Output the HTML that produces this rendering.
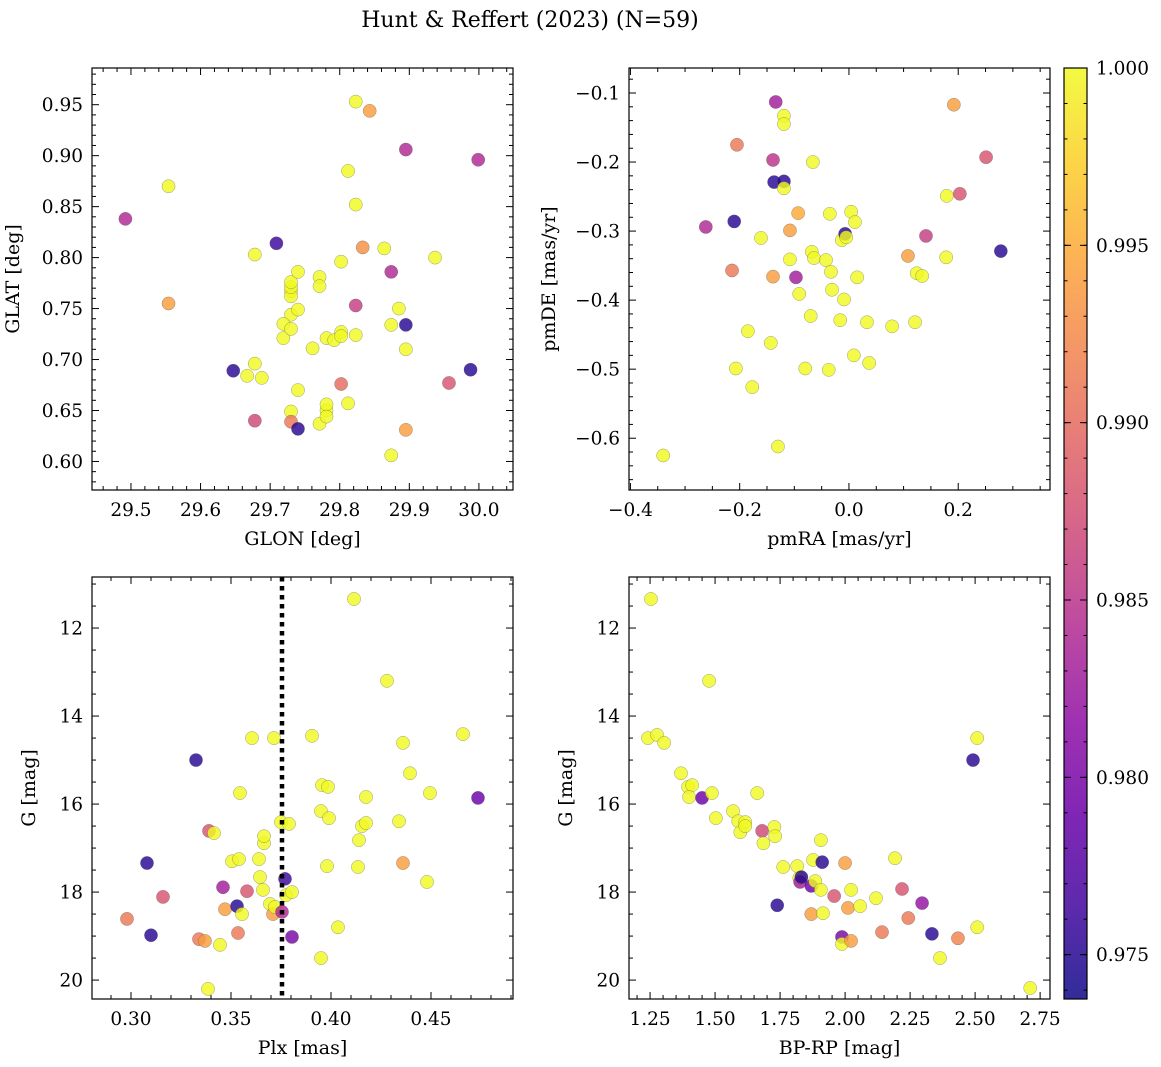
<!DOCTYPE html>
<html><head><meta charset="utf-8"><style>
body{margin:0;background:#fff}
svg{display:block;font-family:"DejaVu Serif","Liberation Serif",serif}
</style></head><body>
<svg id="fig" width="1161" height="1067" viewBox="0 0 1161 1067">
<text x="530" y="27" font-size="22" text-anchor="middle">Hunt &amp; Reffert (2023) (N=59)</text>
</svg>
<script>
// ---- data ----
const glon=[29.492,29.554,29.554,29.647,29.678,29.678,29.667,29.688,29.678,29.709,29.730,29.730,29.730,29.730,29.740,29.730,29.740,29.719,29.719,29.730,29.740,29.730,29.730,29.740,29.761,29.771,29.771,29.771,29.781,29.781,29.781,29.781,29.792,29.802,29.802,29.802,29.802,29.812,29.812,29.823,29.823,29.823,29.823,29.833,29.843,29.864,29.874,29.874,29.874,29.885,29.895,29.895,29.895,29.895,29.937,29.957,29.988,29.999];
const glat=[0.838,0.870,0.755,0.689,0.803,0.696,0.684,0.682,0.640,0.814,0.767,0.762,0.771,0.776,0.786,0.744,0.749,0.735,0.721,0.730,0.670,0.649,0.639,0.632,0.711,0.637,0.781,0.772,0.650,0.656,0.644,0.721,0.719,0.727,0.723,0.676,0.796,0.657,0.885,0.852,0.753,0.953,0.724,0.810,0.944,0.809,0.734,0.606,0.786,0.750,0.734,0.710,0.631,0.906,0.800,0.677,0.690,0.896];
const probPos=[0.984,1,0.994,0.975,1,1,1,1,0.987,0.976,1,1,1,1,1,1,1,1,1,1,1,1,0.991,0.975,1,1,1,1,1,1,1,1,1,1,1,0.990,1,1,1,1,0.986,1,1,0.993,0.994,1,1,1,0.984,1,0.975,1,0.994,0.984,1,0.988,0.975,0.984];

const pmra=[-0.340,-0.262,-0.210,-0.205,-0.214,-0.207,-0.185,-0.177,-0.161,-0.143,-0.139,-0.137,-0.139,-0.134,-0.130,-0.119,-0.119,-0.119,-0.119,-0.108,-0.108,-0.097,-0.093,-0.091,-0.080,-0.070,-0.068,-0.066,-0.064,-0.042,-0.035,-0.033,-0.031,-0.037,-0.016,-0.013,-0.009,-0.007,-0.005,0.004,0.011,0.009,0.015,0.033,0.037,0.079,0.108,0.121,0.124,0.134,0.141,0.178,0.179,0.192,0.203,0.251,0.278];
const pmde=[-0.625,-0.294,-0.286,-0.175,-0.357,-0.499,-0.445,-0.526,-0.310,-0.462,-0.197,-0.229,-0.366,-0.113,-0.612,-0.133,-0.145,-0.228,-0.238,-0.299,-0.341,-0.367,-0.274,-0.391,-0.499,-0.423,-0.330,-0.200,-0.339,-0.342,-0.275,-0.359,-0.385,-0.501,-0.429,-0.313,-0.399,-0.304,-0.309,-0.272,-0.287,-0.480,-0.367,-0.432,-0.491,-0.438,-0.336,-0.432,-0.361,-0.365,-0.307,-0.338,-0.249,-0.117,-0.246,-0.193,-0.329];
const probPm=[1,0.984,0.975,0.991,0.991,1,1,1,1,1,0.985,0.975,0.994,0.983,1,1,1,0.975,1,0.994,1,0.983,0.995,1,1,1,1,1,1,1,1,1,1,1,1,1,1,0.975,1,1,1,1,1,1,1,1,0.994,1,1,1,0.986,1,1,0.994,0.988,0.988,0.975];

const plx=[0.298,0.308,0.310,0.316,0.3325,0.334,0.337,0.3385,0.339,0.3415,0.3445,0.346,0.347,0.3505,0.353,0.3535,0.354,0.3545,0.3555,0.358,0.3605,0.364,0.3645,0.366,0.3665,0.3665,0.3695,0.371,0.3715,0.372,0.375,0.3755,0.3775,0.377,0.379,0.3805,0.3805,0.3905,0.395,0.3955,0.3985,0.399,0.398,0.395,0.4035,0.4115,0.4135,0.414,0.4155,0.4175,0.4175,0.428,0.434,0.436,0.436,0.4395,0.448,0.4495,0.466,0.4735];
const gPlx=[18.61,17.34,18.98,18.11,15.00,19.07,19.11,20.20,16.61,16.66,19.20,17.89,18.39,17.30,18.32,18.93,17.25,15.75,18.50,17.98,14.50,17.25,17.66,17.95,16.89,16.73,18.27,18.50,14.50,18.34,16.41,18.45,18.07,17.70,16.45,19.02,18.00,14.45,16.16,15.57,15.61,16.32,17.41,19.50,18.80,11.34,17.43,16.82,16.50,16.43,15.84,13.20,16.39,14.61,17.34,15.30,17.77,15.75,14.41,15.86];
const probPlx=[0.991,0.975,0.975,0.988,0.975,0.991,0.994,1,0.988,1,1,0.983,0.994,1,0.975,0.991,1,1,1,0.988,1,1,1,1,1,1,1,0.994,1,1,1,0.984,1,0.976,1,0.980,1,1,1,1,1,1,1,1,1,1,1,1,1,1,1,1,1,1,0.994,1,1,1,1,0.979];
const plxLine=[0.3755];

const bprp=[1.2535,1.242,1.277,1.304,1.369,1.396,1.412,1.400,1.450,1.477,1.488,1.503,1.569,1.589,1.597,1.616,1.616,1.662,1.681,1.686,1.728,1.731,1.739,1.762,1.816,1.824,1.827,1.832,1.870,1.870,1.877,1.885,1.907,1.912,1.907,1.915,1.958,1.988,1.988,2.000,2.011,2.023,2.023,2.058,2.119,2.142,2.192,2.219,2.243,2.296,2.334,2.365,2.434,2.492,2.508,2.508,2.712];
const gCmd=[11.34,14.50,14.43,14.61,15.30,15.61,15.57,15.84,15.86,13.20,15.75,16.32,16.16,16.39,16.64,16.41,16.50,15.75,16.61,16.89,16.52,16.73,18.30,17.43,17.41,17.68,17.77,17.66,17.86,18.50,17.27,17.75,17.95,17.32,16.82,18.48,18.09,19.02,19.18,17.34,18.36,19.11,17.95,18.32,18.14,18.91,17.23,17.93,18.59,18.25,18.95,19.50,19.05,15.00,14.50,18.80,20.18];
const probCmd=[1,1,1,1,1,1,1,1,0.979,1,1,1,1,1,1,1,1,1,0.987,1,1,1,0.975,1,1,1,0.983,0.975,0.979,0.994,1,1,1,0.975,1,1,0.988,0.980,1,0.994,0.994,0.994,1,1,1,0.991,1,0.988,0.991,0.982,0.975,1,0.992,0.975,1,1,1];

const cbTicks=[0.975,0.980,0.985,0.990,0.995,1.000];
const cbMin=0.97375, cbMax=1.0;

// ---- plasma colormap ----
const stops=["#0d0887","#41049d","#6a00a8","#8f0da4","#b12a90","#cc4778","#e16462","#f2844b","#fca636","#fcce25","#f0f921"];
function hex(h){return [parseInt(h.substr(1,2),16),parseInt(h.substr(3,2),16),parseInt(h.substr(5,2),16)];}
function plasma(t){t=Math.max(0,Math.min(1,t));const f=t*10,i=Math.min(9,Math.floor(f)),u=f-i;const a=hex(stops[i]),b=hex(stops[i+1]);return `rgb(${a.map((v,k)=>Math.round(v+(b[k]-v)*u)).join(',')})`;}
function pc(p){return plasma((p-cbMin)/(cbMax-cbMin));}

const NS="http://www.w3.org/2000/svg";
const svg=document.getElementById('fig');
function mk(tag,attrs,parent){const e=document.createElementNS(NS,tag);for(const k in attrs)e.setAttribute(k,attrs[k]);(parent||svg).appendChild(e);return e;}
function fmt(v,d){return v.toFixed(d);}
const TICK_FS=18.5, LAB_FS=19;

function panel(o){
  const g=mk('g',{});
  
  
  const L=o.box[0],T=o.box[1],R=o.box[2],B=o.box[3];
  const sx=v=>L+(v-o.xr[0])/(o.xr[1]-o.xr[0])*(R-L);
  const sy=o.yinv? v=>T+(v-o.yr[0])/(o.yr[1]-o.yr[0])*(B-T) : v=>B-(v-o.yr[0])/(o.yr[1]-o.yr[0])*(B-T);
  const pg=mk('g',{},g);
  
  
  o.x.forEach((xv,i)=>{
    const c=mk('circle',{cx:sx(xv),cy:sy(o.y[i]),r:6.6,fill:pc(o.p[i]),'fill-opacity':0.82,stroke:'#555','stroke-width':0.4,'stroke-opacity':0.7},pg);
    
    
  });
  if(o.vline){o.vline.forEach(v=>{const l=mk('line',{x1:sx(v),x2:sx(v),y1:T,y2:B,stroke:'#000','stroke-width':4.5,'stroke-dasharray':'4.5 4.5'},g);
    
    });}
  const fr=mk('rect',{x:L,y:T,width:R-L,height:B-T,fill:'none',stroke:'#000','stroke-width':1.2},g);
  
  
  const e=1e-9;
  const xk0=Math.ceil(o.xr[0]/o.xmin-e), xk1=Math.floor(o.xr[1]/o.xmin+e);
  for(let k=xk0;k<=xk1;k++){
    const v=k*o.xmin;
    const X=sx(v);const maj=Math.abs(v/o.xmaj-Math.round(v/o.xmaj))<1e-6;const len=maj?7:4;
    mk('line',{x1:X,x2:X,y1:B,y2:B-len,stroke:'#000','stroke-width':1},g);
    mk('line',{x1:X,x2:X,y1:T,y2:T+len,stroke:'#000','stroke-width':1},g);
    if(maj){const t=mk('text',{x:X,y:B+26,'font-size':TICK_FS,'text-anchor':'middle'},g);t.textContent=fmt(v,o.xd).replace('-','−');
      }
  }
  const ylo=Math.min(...o.yr), yhi=Math.max(...o.yr);
  const yk0=Math.ceil(ylo/o.ymin-e), yk1=Math.floor(yhi/o.ymin+e);
  for(let k=yk0;k<=yk1;k++){
    const v=k*o.ymin;
    const Y=sy(v);const maj=Math.abs(v/o.ymaj-Math.round(v/o.ymaj))<1e-6;const len=maj?7:4;
    mk('line',{x1:L,x2:L+len,y1:Y,y2:Y,stroke:'#000','stroke-width':1},g);
    mk('line',{x1:R,x2:R-len,y1:Y,y2:Y,stroke:'#000','stroke-width':1},g);
    if(maj){const t=mk('text',{x:L-9,y:Y+6.5,'font-size':TICK_FS,'text-anchor':'end'},g);t.textContent=fmt(v,o.yd).replace('-','−');
      }
  }
  const xl=mk('text',{x:(L+R)/2,y:B+55,'font-size':LAB_FS,'text-anchor':'middle'},g);xl.textContent=o.xlab;
  
  const yx=L-o.ylx, yy=(T+B)/2;
  const yl=mk('text',{x:yx,y:yy,'font-size':LAB_FS,'text-anchor':'middle',transform:`rotate(-90 ${yx} ${yy})`},g);yl.textContent=o.ylab;
  
}

panel({name:'position-panel',box:[92,68,513,490],xr:[29.444,30.049],yr:[0.572,0.986],x:glon,y:glat,p:probPos,xmaj:0.1,xmin:0.02,ymaj:0.05,ymin:0.01,xd:1,yd:2,xlab:'GLON [deg]',ylab:'GLAT [deg]',ylx:73});
panel({name:'proper-motion-panel',box:[629,68,1050,490],xr:[-0.4026,0.368],yr:[-0.675,-0.0638],x:pmra,y:pmde,p:probPm,xmaj:0.2,xmin:0.05,ymaj:0.1,ymin:0.02,xd:1,yd:1,xlab:'pmRA [mas/yr]',ylab:'pmDE [mas/yr]',ylx:74});
panel({name:'parallax-panel',box:[92,577,513,999],xr:[0.2805,0.491],yr:[10.84,20.43],yinv:true,x:plx,y:gPlx,p:probPlx,xmaj:0.05,xmin:0.01,ymaj:2,ymin:0.5,xd:2,yd:0,xlab:'Plx [mas]',ylab:'G [mag]',ylx:57,vline:plxLine});
panel({name:'cmd-panel',box:[629,577,1050,999],xr:[1.169,2.788],yr:[10.84,20.43],yinv:true,x:bprp,y:gCmd,p:probCmd,xmaj:0.25,xmin:0.05,ymaj:2,ymin:0.5,xd:2,yd:0,xlab:'BP-RP [mag]',ylab:'G [mag]',ylx:57});

// colorbar
(function(){
  const L=1064,R=1087,T=68,B=999;
  const cg=mk('g',{});
  
  
  const defs=mk('defs',{},cg);
  const lg=mk('linearGradient',{id:'cbg',x1:0,y1:1,x2:0,y2:0},defs);
  for(let i=0;i<=20;i++){mk('stop',{offset:i/20,'stop-color':plasma(i/20),'stop-opacity':0.85},lg);}
  mk('rect',{x:L,y:T,width:R-L,height:B-T,fill:'url(#cbg)',stroke:'#000','stroke-width':1.2},cg);
  const sy=v=>B-(v-cbMin)/(cbMax-cbMin)*(B-T);
  for(let k=974;k<=1000;k++){const Y=sy(k/1000);mk('line',{x1:R,x2:R-3.5,y1:Y,y2:Y,stroke:'#000','stroke-width':1},cg);mk('line',{x1:L,x2:L+3.5,y1:Y,y2:Y,stroke:'#000','stroke-width':1},cg);}
  cbTicks.forEach(v=>{const Y=sy(v);mk('line',{x1:R,x2:R-7,y1:Y,y2:Y,stroke:'#000','stroke-width':1},cg);mk('line',{x1:L,x2:L+7,y1:Y,y2:Y,stroke:'#000','stroke-width':1},cg);
    const t=mk('text',{x:R+9,y:Y+6.5,'font-size':TICK_FS},cg);t.textContent=v.toFixed(3);
    });
})();
</script>
</body></html>
